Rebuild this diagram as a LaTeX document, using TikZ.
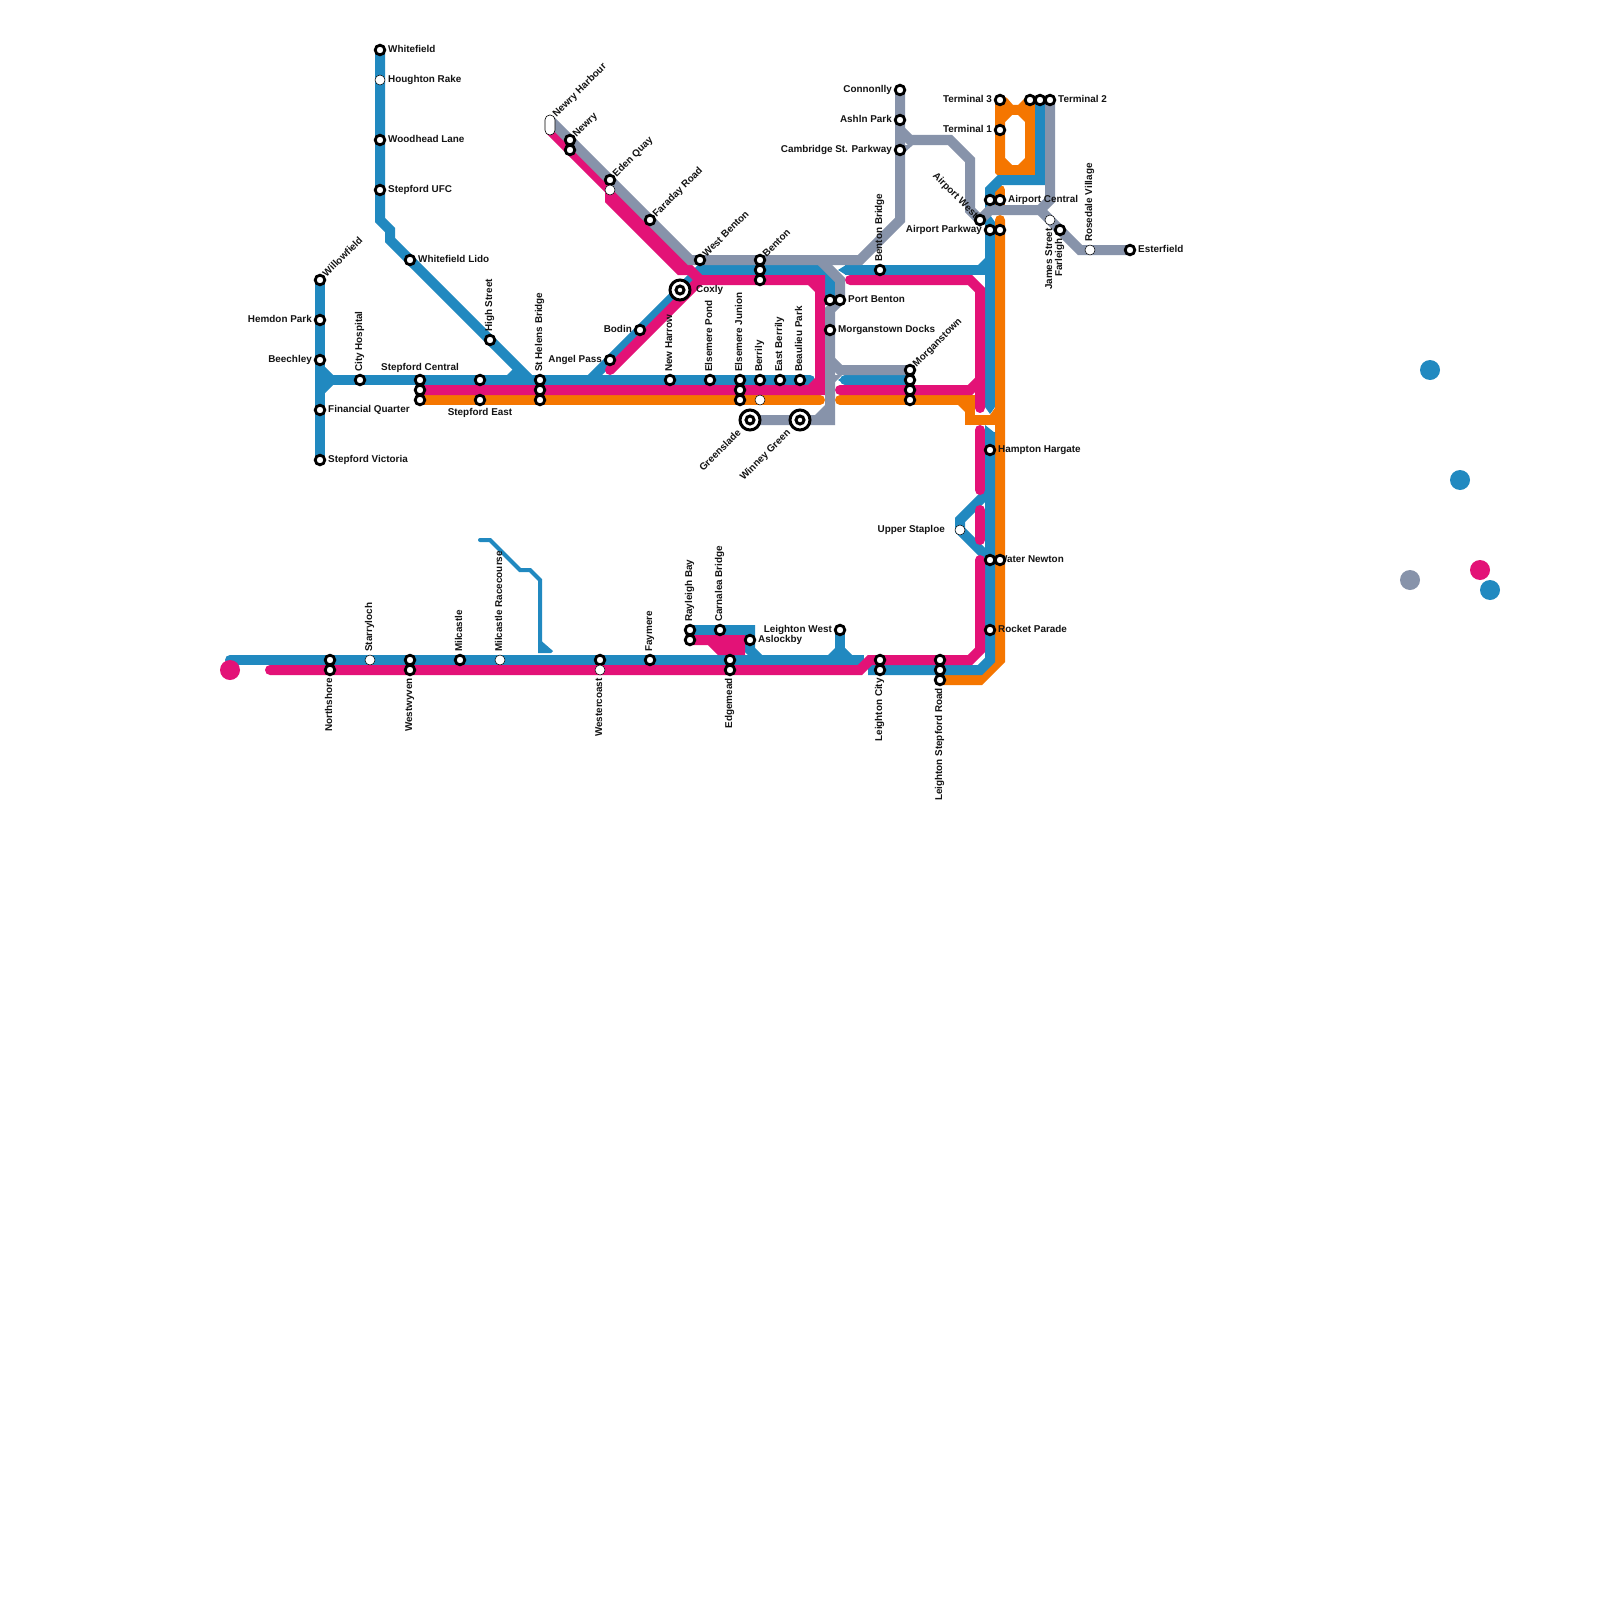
\documentclass[tikz,border=0pt]{standalone}
\usepackage{fontspec}
\setmainfont{Liberation Sans}
\definecolor{mblue}{RGB}{33,137,192}
\definecolor{mpink}{RGB}{227,18,119}
\definecolor{morange}{RGB}{245,118,0}
\definecolor{mgrey}{RGB}{135,147,170}
\tikzset{
  bl/.style={draw=mblue,line width=10,line join=miter},
  pk/.style={draw=mpink,line width=10,line join=miter},
  og/.style={draw=morange,line width=10,line join=miter},
  gy/.style={draw=mgrey,line width=10,line join=miter},
  stn/.style={circle,draw=black,line width=2.8,fill=white,minimum size=9.6,inner sep=0},
  stw/.style={circle,draw=black,line width=.5,fill=white,minimum size=10,inner sep=0},
  hub/.style={circle,draw=black,line width=3,fill=white,minimum size=20,inner sep=0},
  hubin/.style={circle,draw=black,line width=3,fill=white,minimum size=8,inner sep=0},
  txt/.style={font=\fontsize{9.9}{10}\selectfont\bfseries,text=black!92,inner sep=0,text height=7.2,text depth=0},
  lr/.style={txt,anchor=west},
  ll/.style={txt,anchor=east},
  lup/.style={txt,rotate=90,anchor=west},
  ldn/.style={txt,rotate=90,anchor=east},
  lne/.style={txt,rotate=45,anchor=west},
  lsw/.style={txt,rotate=45,anchor=east},
  lnw/.style={txt,rotate=-45,anchor=east},
  lc/.style={txt,anchor=center},
}
\begin{document}
\begin{tikzpicture}[x=1pt,y=-1pt]
\useasboundingbox (0,0) rectangle (1600,1600);
\fill[white] (0,0) rectangle (1600,1600);
% orange
\fill[morange,even odd rule] (995,100) -- (1000,95) -- (1007,98) -- (1013,105) -- (1018,105) -- (1025,98) -- (1030,95) -- (1035,100) -- (1035,175) -- (997,175) -- (995,173) -- cycle
  (1005,122) -- (1012,115) -- (1018,115) -- (1025,122) -- (1025,158) -- (1018,165) -- (1012,165) -- (1005,158) -- cycle;
\draw[og,line cap=round] (1000,190) -- (1000,206);
\draw[og,line cap=round] (1000,220) -- (1000,660) -- (980,680) -- (940,680);
\draw[og,line cap=round] (420,400) -- (820,400);
\draw[og,line cap=round] (840,400) -- (970,400) -- (970,420);
\draw[og] (965,420) -- (1000,420);
\fill[morange] (958,405) -- (965,412) -- (965,405) -- cycle;
% blue
\draw[bl,line cap=round] (380,50) -- (380,220) -- (390,230) -- (390,240) -- (530,380);
\draw[bl] (320,280) -- (320,460);
\draw[bl,line cap=round] (320,380) -- (810,380);
\fill[mblue] (325,367) -- (333,375) -- (325,375) -- cycle;
\fill[mblue] (325,393) -- (333,385) -- (325,385) -- cycle;
\fill[mblue] (507,375) -- (516,366) -- (525,375) -- cycle;
\draw[bl] (590,380) -- (700,270) -- (820,270) -- (830,280) -- (830,305);
\draw[bl] (845,270) -- (990,270);
\fill[mblue] (846,265) -- (838,270) -- (846,275) -- cycle;
\fill[mblue] (978,265) -- (985,258) -- (985,265) -- cycle;
\draw[bl] (990,222) -- (990,407);
\fill[mblue] (985,222) -- (990,215) -- (995,222) -- cycle;
\fill[mblue] (985,407) -- (990,414) -- (995,407) -- cycle;
\draw[bl] (990,432) -- (990,660) -- (980,670) -- (868,670);
\fill[mblue] (985,433) -- (985,425) -- (995,433) -- cycle;
\draw[bl] (1040,100) -- (1040,180) -- (1000,180) -- (990,190) -- (990,208);
\draw[bl] (990,490) -- (960,520) -- (960,530) -- (990,560);
\draw[bl,line cap=round] (845,380) -- (910,380);
\fill[mblue] (846,375) -- (838,380) -- (846,385) -- cycle;
\draw[bl,line cap=round] (230,660) -- (700,660);
\draw[bl] (700,660) -- (864,660);
\draw[bl] (690,630) -- (750,630) -- (750,650) -- (760,660);
\draw[bl] (840,630) -- (840,655);
\fill[mblue] (828,655) -- (835,648) -- (835,655) -- cycle;
\fill[mblue] (852,655) -- (845,648) -- (845,655) -- cycle;
\draw[mblue,line width=4,line cap=round,line join=miter] (480,540) -- (490,540) -- (520,570) -- (530,570) -- (540,580) -- (540,650);
\fill[mblue] (538,638) -- (553,651) -- (551,653) -- (538,653) -- cycle;
% pink
\draw[pk,line cap=round] (420,390) -- (820,390) -- (820,280) -- (700,280) -- (610,370);
\fill[mpink] (808,285) -- (815,292) -- (815,285) -- cycle;
\fill[mpink] (808,385) -- (815,378) -- (815,385) -- cycle;
\draw[pk] (550,130) -- (690,270) -- (700,280);
\draw[pk] (610,190) -- (610,200) -- (680,270) -- (690,270);
\draw[pk,line cap=round] (850,280) -- (970,280) -- (980,290) -- (980,408);
\draw[pk,line cap=round] (840,390) -- (970,390) -- (980,380);
\draw[pk,line cap=round] (980,430) -- (980,490);
\draw[pk,line cap=round] (980,510) -- (980,540);
\draw[pk,line cap=round] (980,560) -- (980,650) -- (970,660) -- (870,660) -- (860,670) -- (270,670);
\draw[pk] (690,640) -- (740,640) -- (740,650) -- (720,650) -- (710,640);
\fill[morange] (990,415) -- (995,415) -- (995,408) -- cycle;
% grey
\draw[gy] (550,120) -- (690,260) -- (860,260) -- (900,220) -- (900,90);
\draw[gy] (900,130) -- (910,140) -- (950,140) -- (970,160) -- (970,210) -- (980,220) -- (990,210) -- (1040,210) -- (1050,200) -- (1050,100);
\draw[gy] (1040,210) -- (1080,250) -- (1130,250);
\fill[mgrey] (905,152) -- (913,145) -- (905,145) -- cycle;
\draw[gy] (820,260) -- (840,280) -- (840,300) -- (830,310) -- (830,420) -- (750,420);
\fill[mgrey] (815,415) -- (825,405) -- (825,415) -- cycle;
\draw[gy] (830,360) -- (840,370) -- (910,370);
\fill[mgrey] (835,382) -- (842,375) -- (835,375) -- cycle;
% free discs
\fill[mpink] (230,670) circle (10);
\fill[mblue] (1430,370) circle (10);
\fill[mblue] (1460,480) circle (10);
\fill[mblue] (1490,590) circle (10);
\fill[mgrey] (1410,580) circle (10);
\fill[mpink] (1480,570) circle (10);
% labels
\node[lr] (tWhitefield) at (388,48.5) {Whitefield};
\node[lr] (tHoughton) at (388,78.5) {Houghton Rake};
\node[lr] (tWoodhead) at (388,138.5) {Woodhead Lane};
\node[lr] (tUFC) at (388,188.5) {Stepford UFC};
\node[lr] (tLido) at (418,258.5) {Whitefield Lido};
\node[lne] (tWillow) at (324,275) {Willowfield};
\node[ll] (tHemdon) at (312,318.5) {Hemdon Park};
\node[ll] (tBeech) at (312,358.5) {Beechley};
\node[lr] (tFin) at (328,408.5) {Financial Quarter};
\node[lr] (tVic) at (328,458.5) {Stepford Victoria};
\node[lup] (tCity) at (358.5,372) {City Hospital};
\node[lc] (tCentral) at (420,367) {Stepford Central};
\node[lc] (tEast) at (480,412) {Stepford East};
\node[lup] (tHigh) at (488.5,332) {High Street};
\node[lup] (tHelens) at (538.5,372) {St Helens Bridge};
\node[ll] (tAngel) at (602,358.5) {Angel Pass};
\node[ll] (tBodin) at (632,328.5) {Bodin};
\node[lr] (tCoxly) at (696,288.5) {Coxly};
\node[lup] (tHarrow) at (668.5,372) {New Harrow};
\node[lup] (tPond) at (708.5,372) {Elsemere Pond};
\node[lup] (tJunion) at (738.5,372) {Elsemere Junion};
\node[lup] (tBerrily) at (758.5,372) {Berrily};
\node[lup] (tEBerrily) at (778.5,372) {East Berrily};
\node[lup] (tBeau) at (798.5,372) {Beaulieu Park};
\node[lne] (tHarbour) at (554,115) {Newry Harbour};
\node[lne] (tNewry) at (574,135) {Newry};
\node[lne] (tEden) at (614,175) {Eden Quay};
\node[lne] (tFaraday) at (654,215) {Faraday Road};
\node[lne] (tWBenton) at (704,255) {West Benton};
\node[lne] (tBenton) at (764,255) {Benton};
\node[lsw] (tGreen) at (739,431) {Greenslade};
\node[lsw] (tWinney) at (788.5,431) {Winney Green};
\node[lr] (tPort) at (848,298.5) {Port Benton};
\node[lr] (tDocks) at (838,328.5) {Morganstown Docks};
\node[lne] (tMorg) at (914,365) {Morganstown};
\node[lup] (tBB) at (878.5,262) {Benton Bridge};
\node[ll] (tConn) at (892,88.5) {Connonlly};
\node[ll] (tAshln) at (892,118.5) {Ashln Park};
\node[ll] (tCamb) at (892,148.5) {Cambridge St. Parkway};
\node[lnw] (tAW) at (977,216) {Airport West};
\node[lr] (tAC) at (1008,198.5) {Airport Central};
\node[ll] (tAP) at (982,228.5) {Airport Parkway};
\node[ll] (tT3) at (992,98.5) {Terminal 3};
\node[ll] (tT1) at (992,128.5) {Terminal 1};
\node[lr] (tT2) at (1058,98.5) {Terminal 2};
\node[ldn] (tJames) at (1048.5,228) {James Street};
\node[ldn] (tFar) at (1058.5,238) {Farleigh};
\node[lup] (tRose) at (1088.5,242) {Rosedale Village};
\node[lr] (tEster) at (1138,248.5) {Esterfield};
\node[lr] (tHampton) at (998,448.5) {Hampton Hargate};
\node[ll] (tStaploe) at (945,528.5) {Upper Staploe};
\node[lr] (tWater) at (998,558.5) {Water Newton};
\node[lr] (tRocket) at (998,628.5) {Rocket Parade};
\node[ldn] (tNorth) at (328.5,678) {Northshore};
\node[lup] (tStarry) at (368.5,652) {Starryloch};
\node[ldn] (tWest) at (408.5,678) {Westwyven};
\node[lup] (tMil) at (458.5,652) {Milcastle};
\node[lup] (tRace) at (498.5,652) {Milcastle Racecourse};
\node[ldn] (tCoast) at (598.5,678) {Westercoast};
\node[lup] (tFay) at (648.5,652) {Faymere};
\node[lup] (tRay) at (688.5,622) {Rayleigh Bay};
\node[lup] (tCarn) at (718.5,622) {Carnalea Bridge};
\node[lr] (tAsl) at (758,638.5) {Aslockby};
\node[ldn] (tEdge) at (728.5,678) {Edgemead};
\node[ll] (tLW) at (832,628.5) {Leighton West};
\node[ldn] (tLC) at (878.5,678) {Leighton City};
\node[ldn] (tLS) at (938.5,688) {Leighton Stepford Road};
% stations
\foreach \n/\x/\y in {a1/380/50,a3/380/140,a4/380/190,a5/410/260,b1/320/280,b2/320/320,b3/320/360,b4/320/410,b5/320/460,
 c1/360/380,c2/420/380,c3/420/390,c4/420/400,c5/480/380,c6/480/400,c7/490/340,c8/540/380,c9/540/390,c10/540/400,
 d1/610/360,d2/640/330,d3/670/380,d4/710/380,d5/740/380,d6/740/390,d7/740/400,d8/760/380,d9/780/380,d10/800/380,
 e1/570/140,e2/570/150,e3/610/180,e4/650/220,e5/700/260,e6/760/260,e7/760/270,e8/760/280,
 f1/830/300,f2/840/300,f3/830/330,f4/910/370,f5/910/380,f6/910/390,f7/910/400,f8/880/270,
 g1/900/90,g2/900/120,g3/900/150,g4/980/220,g5/990/200,g6/1000/200,g7/990/230,g8/1000/230,
 h1/1000/100,h2/1000/130,h3/1030/100,h4/1040/100,h5/1050/100,h6/1060/230,h7/1130/250,
 i1/990/450,i2/990/560,i3/1000/560,i4/990/630,
 j1/940/660,j2/940/670,j3/940/680,j4/880/660,j5/880/670,j6/840/630,j7/750/640,j8/730/660,j9/730/670,j10/690/630,j11/690/640,j12/720/630,
 k1/650/660,k2/600/660,k3/460/660,k4/410/660,k5/410/670,k6/330/660,k7/330/670}
 {\node[stn] (s\n) at (\x,\y) {};}
\foreach \n/\x/\y in {w1/380/80,w2/610/190,w3/760/400,w4/1050/220,w5/1090/250,w6/960/530,w7/600/670,w8/500/660,w9/370/660}
 {\node[stw] (s\n) at (\x,\y) {};}
\foreach \n/\x/\y in {hA/680/290,hB/750/420,hC/800/420}
 {\node[hub] (s\n) at (\x,\y) {}; \node[hubin] (s\n i) at (\x,\y) {};}
\node[draw=black,line width=.6,fill=white,rounded corners=4.8,minimum width=10,minimum height=20,inner sep=0] (sHarbour) at (550,125) {};
\end{tikzpicture}
\end{document}
